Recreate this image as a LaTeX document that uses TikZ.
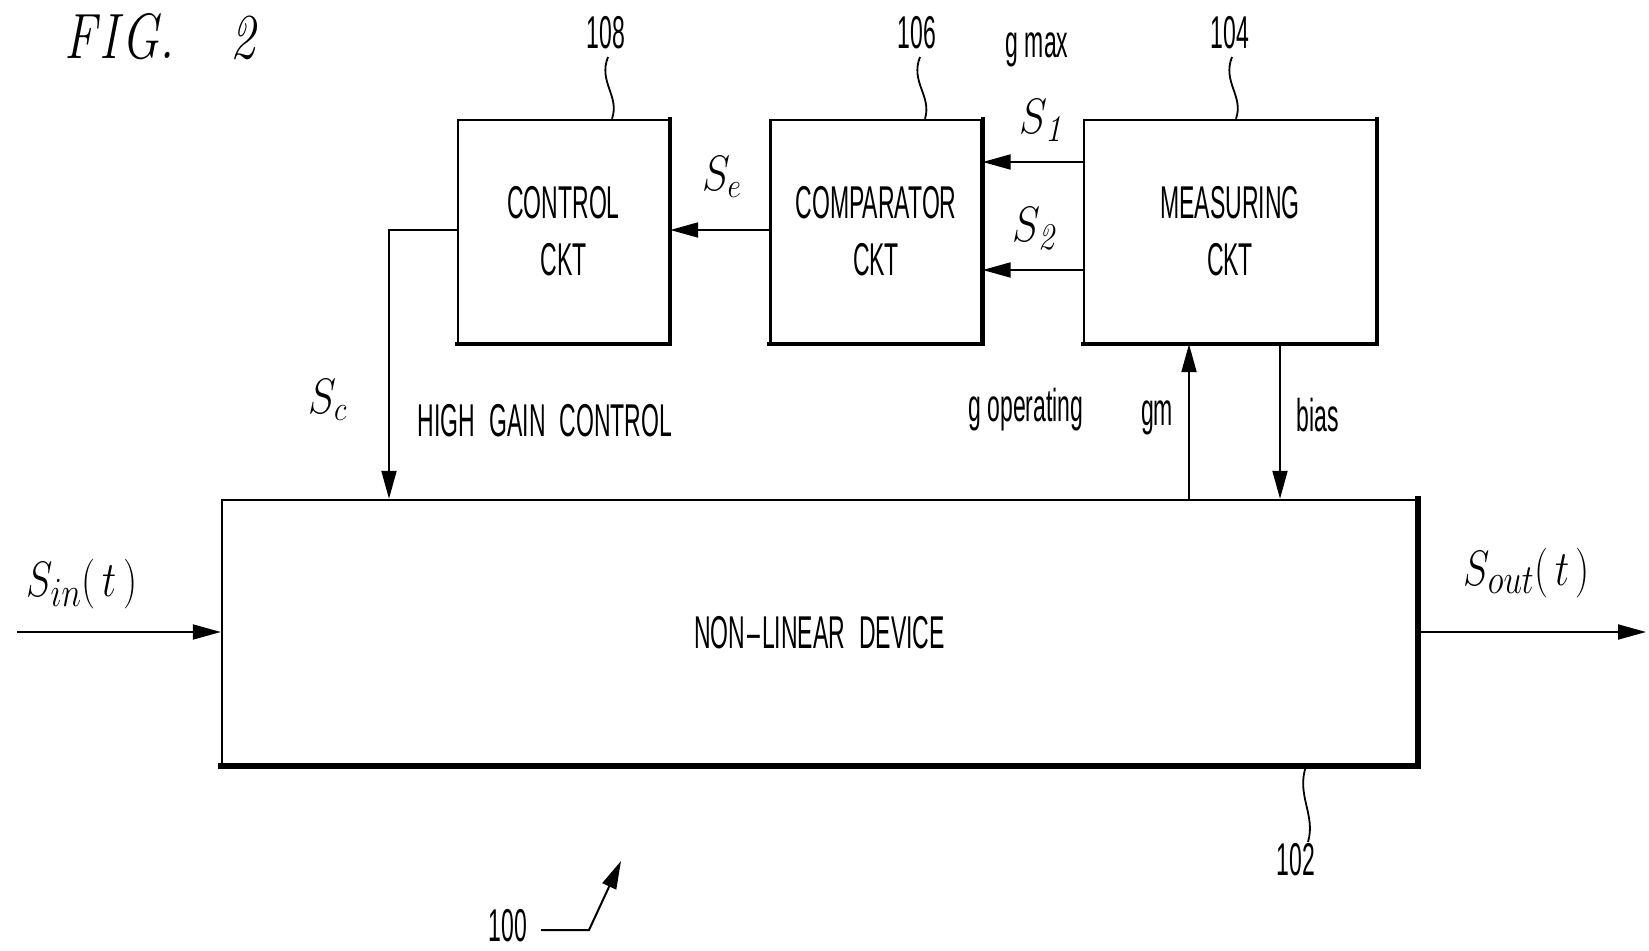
\documentclass[tikz,border=0pt]{standalone}
\usepackage{fontspec}
\newfontfamily\labfont[FakeStretch=0.5]{Liberation Sans}
\usetikzlibrary{arrows.meta}
\begin{document}
\begin{tikzpicture}[x=0.5pt,y=-0.5pt,
  blk/.style={draw, line width=1.2pt, inner sep=0pt, align=center,
    font=\labfont\fontsize{23}{28.5}\selectfont},
  lab/.style={font=\labfont\fontsize{23}{28.5}\selectfont, inner sep=0pt, align=center},
  mlab/.style={font=\fontsize{27}{30}\selectfont, inner sep=0pt},
  arr/.style={line width=1pt, -{Triangle[length=14pt,width=7.5pt]}},
  lead/.style={line width=0.9pt},
  shadow/.style={line width=2pt, line cap=rect}
]
\useasboundingbox (0,0) rectangle (1649,951);

% blocks
\node[blk, minimum width=105.5pt, minimum height=111.5pt] (ctl) at (563.5,231.5) {CONTROL\\CKT};
\node[blk, minimum width=105.5pt, minimum height=111.5pt] (cmp) at (876,231.5) {COMPARATOR\\CKT};
\node[blk, minimum width=146pt, minimum height=111.5pt] (meas) at (1230,231.5) {MEASURING\\CKT};
\node[blk, minimum width=597.5pt, minimum height=132.5pt] (nld) at (819.5,632.5) {NON\kern1pt–\kern1ptLINEAR\hspace{7pt}DEVICE};

% shadow edges
\draw[shadow] (ctl.south west) -- (ctl.south east) -- (ctl.north east);
\draw[shadow] (cmp.south west) -- (cmp.south east) -- (cmp.north east);
\draw[shadow] (meas.south west) -- (meas.south east) -- (meas.north east);
\draw[line width=3pt, line cap=rect] (nld.south west) -- (nld.south east) -- (nld.north east);

% connectors
\coordinate (inS) at (17,632);
\coordinate (outE) at (1646,632);
\draw[arr] (inS) -- (nld.west |- inS);
\draw[arr] (nld.east |- outE) -- (outE);
\draw[arr] (meas.west |- 0,162) -- (cmp.east |- 0,162);
\draw[arr] (meas.west |- 0,270) -- (cmp.east |- 0,270);
\draw[arr] (cmp.west |- 0,230) -- (ctl.east |- 0,230);
\coordinate (scx) at (389,230);
\draw[arr] (ctl.west |- scx) -- (scx) -- (nld.north -| scx);
\draw[arr] (nld.north -| 1189,0) -- (meas.south -| 1189,0);
\draw[arr] (meas.south -| 1280,0) -- (nld.north -| 1280,0);

% labels
\node[font=\itshape\fontsize{32}{34}\selectfont, inner sep=0pt, anchor=west] (fig) at (64,37) {\scalebox{0.78}[1]{F\kern2pt I\kern2pt G.\hspace{36pt}2}};
\node[lab] (n108) at (606,33) {108};
\node[lab] (n106) at (917,33) {106};
\node[lab] (n104) at (1230,33) {104};
\node[lab] (n102) at (1296,860) {102};
\node[lab] (n100) at (508,926) {100};
\node[lab] (gmax) at (1037,50) {g max};
\node[lab] (hgc) at (545,421) {HIGH\hspace{7pt}GAIN\hspace{7pt}CONTROL};
\node[lab] (gop) at (1026,410) {g operating};
\node[lab] (gm) at (1157,418) {gm};
\node[lab] (bias) at (1318,415) {bias};

\node[mlab] (s1) at (1041,121) {\scalebox{0.85}[1]{$S_{\mathit{1}}$}};
\node[mlab] (s2) at (1034,229) {\scalebox{0.85}[1]{$S_{\mathit{2}}$}};
\node[mlab] (se) at (722,177) {\scalebox{0.85}[1]{$S_e$}};
\node[mlab] (sc) at (328,400) {\scalebox{0.85}[1]{$S_c$}};
\node[mlab, font=\fontsize{30}{33}\selectfont] (sin) at (82,584) {\scalebox{0.8}[1]{$S_{in}(\,t\,)$}};
\node[mlab, font=\fontsize{30}{33}\selectfont] (sout) at (1527,573) {\scalebox{0.8}[1]{$S_{out}(\,t\,)$}};

% leaders
\draw[lead] (608,57) .. controls (598,82) and (620,96) .. (ctl.north -| 612,0);
\draw[lead] (920,57) .. controls (910,82) and (932,96) .. (cmp.north -| 925,0);
\draw[lead] (1232,57) .. controls (1222,82) and (1244,96) .. (meas.north -| 1236,0);
\draw[lead] (nld.south -| 1306,0) .. controls (1296,795) and (1316,815) .. (1308,842);
\coordinate (h100) at (541,930);
\coordinate (k100) at (589,930);
\coordinate (t100) at (621,861);
\draw[arr] (h100) -- (k100) -- (t100);
\end{tikzpicture}
\end{document}
